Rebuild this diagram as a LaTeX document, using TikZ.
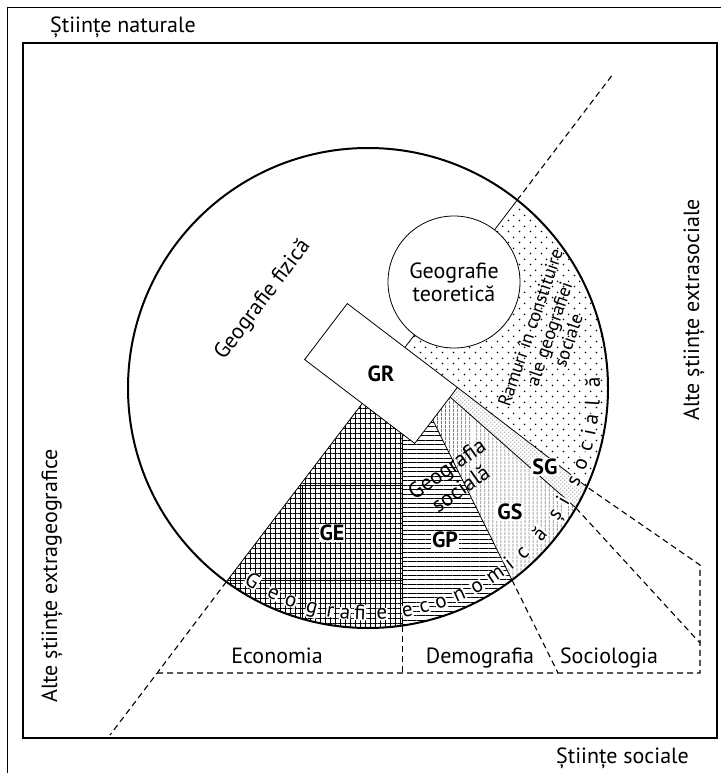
\documentclass[tikz,border=0pt]{standalone}
\usepackage{fontspec}
\setmainfont{PT Sans}
\usetikzlibrary{calc,patterns.meta}

\tikzdeclarepattern{name=sparsedots,type=uncolored,
  bounding box={(0pt,0pt) and (11pt,11pt)},tile size={(11pt,11pt)},
  code={\fill (2.75pt,2.75pt) circle (0.9pt);
        \fill (8.25pt,8.25pt) circle (0.9pt);}}
\tikzdeclarepattern{name=finedots,type=uncolored,
  bounding box={(0pt,0pt) and (4.4pt,4.4pt)},tile size={(4.4pt,4.4pt)},
  code={\fill (1.1pt,1.1pt) circle (0.55pt);
        \fill (3.3pt,3.3pt) circle (0.55pt);}}

\begin{document}
\begin{tikzpicture}[x=1pt,y=-1pt,
                          every node/.style={inner sep=0pt},
                          txt/.style={font=\fontsize{22}{24}\selectfont},
                          tag/.style={font=\fontsize{22}{24}\selectfont\bfseries,fill=white,inner sep=1pt},
                          ramlbl/.style={font=\fontsize{18.5}{20}\selectfont,align=center},
                          arcletter/.style={font=\fontsize{21}{22}\selectfont,anchor=base,fill=white,inner sep=0.4pt},
                          guide/.style={line width=1.1pt,dash pattern=on 6pt off 4pt},
                          part/.style={line width=0.8pt},
                          grbox/.style={minimum width=138pt,minimum height=70pt,rotate=-37.3},
                          teobox/.style={circle,draw,line width=0.8pt,fill=white,minimum size=132pt,
                                         align=center,font=\fontsize{22}{23}\selectfont}]
                          \useasboundingbox (0,0) rectangle (721,773);
                          \draw [line width=0.8pt] (721,7) -- (7,7) -- (7,773);
                          \draw [line width=1.4pt] (23,43) rectangle (717,738);
                          \coordinate (o) at (368,388);
                          \node [grbox] (gr) at (381,373.5) {};
                          \coordinate (t) at ($(gr.north west)!0.523!(gr.north east)$);
                          \coordinate (r) at (gr.north east);
                          \coordinate (s) at ($(gr.north east)!0.171!(gr.south east)$);
                          \coordinate (q) at ($(gr.north east)!0.579!(gr.south east)$);
                          \coordinate (b) at ($(gr.south west)!0.523!(gr.south east)$);
                          \coordinate (e) at ($(gr.south west)!0.888!(gr.south east)$);
                          \coordinate (ca) at (517.2,200.1);
                          \coordinate (cb) at (226.4,581.7);
                          \coordinate (hr) at (587,487);
                          \coordinate (hs) at (576,508);
                          \coordinate (hq) at (512,580);
                          \coordinate (he) at (402.4,625.5);
                          \coordinate (dtop) at (613,74);
                          \coordinate (dbot) at (110,735);
                          \coordinate (kink) at (157.2,673);
                          \coordinate (corner) at (700,673);
                          \coordinate (pr) at (700,565);
                          \coordinate (ps) at (700,643);
                          \coordinate (pq) at (558,673);
                          \coordinate (pe) at (402.4,673);
                          \begin{scope}
                            \clip (o) circle (240);
                            \fill [pattern=sparsedots] (t) -- (dtop) -- (860,74) -- (860,686) -- ($(r)!3!(hr)$) -- (r) -- cycle;
                            \fill [pattern=finedots] (r) -- ($(r)!3!(hr)$) -- ($(s)!3!(hs)$) -- (s) -- cycle;
                            \fill [pattern={Lines[angle=90,distance=4pt,line width=0.45pt]}] (s) -- ($(s)!3!(hs)$) -- ($(q)!2!(hq)$) -- (q) -- cycle;
                            \fill [pattern={Lines[angle=0,distance=4.5pt,line width=0.45pt]}] (e) -- (402.4,700) -- ($(q)!2!(hq)$) -- (q) -- (gr.south east) -- cycle;
                            \fill [pattern={Hatch[angle=0,distance=5pt,line width=0.4pt]}] (b) -- (e) -- (402.4,700) -- ($(b)!2!(cb)$) -- cycle;
                            \draw [part] (300.2,485) -- (402.4,485);
                            \draw [part] (227.9,580) -- (402.4,580);
                            \draw [part] (302,485) -- (302,640);
                            \draw [part] (ca) -- (cb);
                            \draw [part] (r) -- (hr);
                            \draw [part] (s) -- (hs);
                            \draw [part] (q) -- (hq);
                            \draw [part] (e) -- (he);
                          \end{scope}
                          \draw [part,fill=white] (gr.north west) -- (gr.north east) -- (gr.south east) -- (gr.south west) -- cycle;
                          \node [teobox] (teo) at (454,282) {Geografie\\teoretică};
                          \draw [line width=2pt] (o) circle (240);
                          \draw [guide] (ca) -- (dtop);
                          \draw [guide] (cb) -- (kink) -- (dbot);
                          \draw [guide] (kink) -- (corner) -- (pr) -- (hr);
                          \draw [guide] (hs) -- (ps);
                          \draw [guide] (hq) -- (pq);
                          \draw [guide] (he) -- (pe);
                          \node [txt,anchor=base west] (nat) at (50,33) {Științe naturale};
                          \node [txt,anchor=base west] (socs) at (556,763) {Științe sociale};
                          \node [txt,rotate=90] (extsoc) at (694,310) {Alte științe extrasociale};
                          \node [txt,rotate=90] (extgeo) at (52,576) {Alte științe extrageografice};
                          \node [txt,rotate=53] (fiz) at (263,300) {Geografie fizică};
                          \node [tag] (grl) at (gr.center) {GR};
                          \node [ramlbl,rotate=71] (ram) at (549,334) {Ramuri în constituire\\ale geografiei\\sociale};
                          \node [txt,rotate=35,align=center] (gsoc) at (453.5,478.5) {Geografia\\socială};
                          \node [tag] (ge) at (332,533) {GE};
                          \node [tag] (gp) at (445,540) {GP};
                          \node [tag] (gs) at (510,512) {GS};
                          \node [tag] (sg) at (545,467) {SG};
                          \node [txt,anchor=base] (eco) at (277,663) {Economia};
                          \node [txt,anchor=base] (dem) at (480,663) {Demografia};
                          \node [txt,anchor=base] (sociol) at (609,663) {Sociologia};
                          \foreach \b/\c in {120.9/G,114.7/e,109.9/o,104.3/g,99.6/r,95.8/a,92/fi,86.5/e,
                                             80/e,75.6/c,71.2/o,66.2/n,61.2/o,55.7/m,51.2/i,46.8/c,40.4/ă,
                                             34/ș,30/i,24.2/s,19.7/o,15/c,11.4/i,8/a,3.7/l,-1.5/ă}
                            \node [arcletter,rotate=90-\b] at ($(o)+(\b:232)$) {\c};
                      \end{tikzpicture}
\end{document}
